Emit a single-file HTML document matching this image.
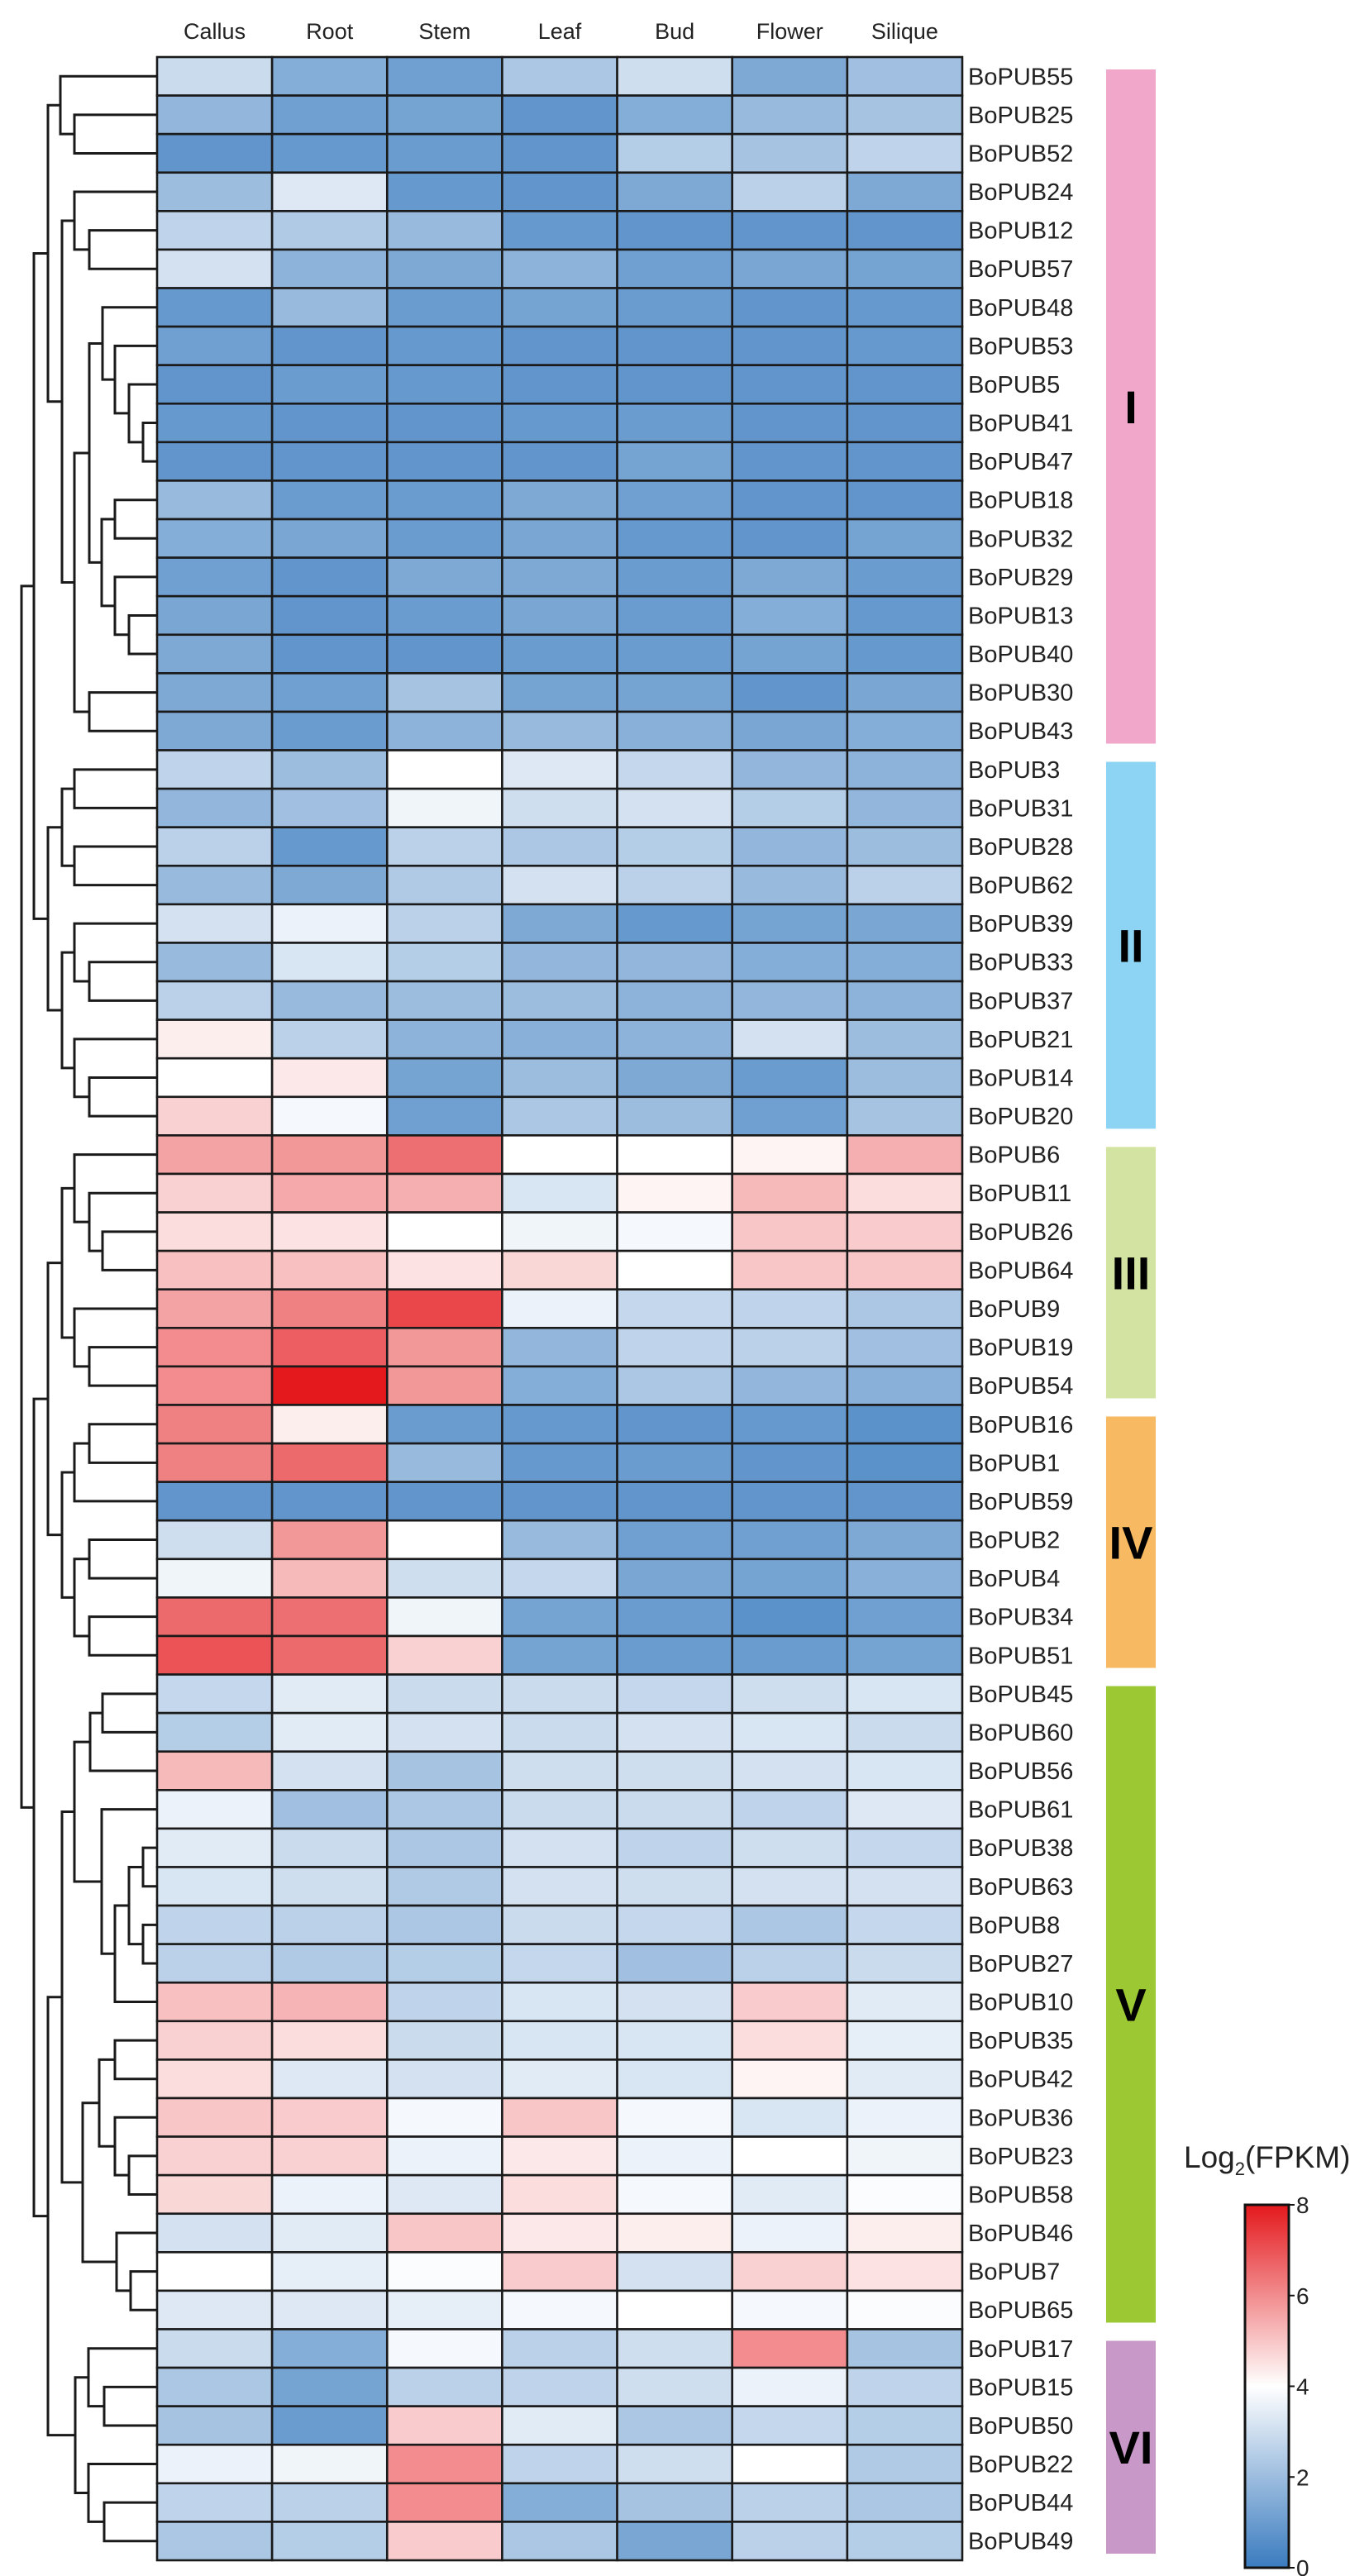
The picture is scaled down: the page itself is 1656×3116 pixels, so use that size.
<!DOCTYPE html>
<html><head><meta charset="utf-8"><style>
html,body{margin:0;padding:0;background:#fff;}
svg{display:block;font-family:"Liberation Sans",Arial,sans-serif;}
</style></head><body>
<svg id="chart" width="1656" height="3116" viewBox="0 0 1656 3116" xmlns="http://www.w3.org/2000/svg">
<defs>
<linearGradient id="cbgrad" x1="0" y1="1" x2="0" y2="0">
<stop offset="0" stop-color="#3a7bbf"/><stop offset="0.5" stop-color="#ffffff"/><stop offset="1" stop-color="#e4191d"/>
</linearGradient>
</defs>
<g id="dendro"></g>
<g id="cells"></g>
<g id="collabels"></g>
<g id="rowlabels"></g>
<g id="groups"></g>
<g id="legend">
<text x="1432" y="2622" font-size="37" fill="#222">Log<tspan font-size="22" dy="9">2</tspan><tspan dy="-9">(FPKM)</tspan></text>
<rect x="1506" y="2667" width="53" height="439" fill="url(#cbgrad)" stroke="#111" stroke-width="3"/>
</g>
</svg>
<script>
const columns = ["Callus","Root","Stem","Leaf","Bud","Flower","Silique"];
const genes = ["BoPUB55","BoPUB25","BoPUB52","BoPUB24","BoPUB12","BoPUB57","BoPUB48","BoPUB53","BoPUB5","BoPUB41","BoPUB47","BoPUB18","BoPUB32","BoPUB29","BoPUB13","BoPUB40","BoPUB30","BoPUB43",
"BoPUB3","BoPUB31","BoPUB28","BoPUB62","BoPUB39","BoPUB33","BoPUB37","BoPUB21","BoPUB14","BoPUB20",
"BoPUB6","BoPUB11","BoPUB26","BoPUB64","BoPUB9","BoPUB19","BoPUB54",
"BoPUB16","BoPUB1","BoPUB59","BoPUB2","BoPUB4","BoPUB34","BoPUB51",
"BoPUB45","BoPUB60","BoPUB56","BoPUB61","BoPUB38","BoPUB63","BoPUB8","BoPUB27","BoPUB10","BoPUB35","BoPUB42","BoPUB36","BoPUB23","BoPUB58","BoPUB46","BoPUB7","BoPUB65",
"BoPUB17","BoPUB15","BoPUB50","BoPUB22","BoPUB44","BoPUB49"];
const values = [
[2.9,1.5,1.1,2.3,3.0,1.4,2.1],[1.8,1.1,1.2,0.8,1.5,1.9,2.2],[0.8,0.9,1.0,0.8,2.5,2.2,2.7],[2.0,3.3,0.9,0.8,1.4,2.6,1.4],
[2.7,2.4,1.9,0.9,0.8,0.8,0.8],[3.1,1.7,1.4,1.7,1.1,1.3,1.2],[0.9,1.9,1.0,1.2,1.0,0.8,0.9],[1.1,0.8,0.9,0.8,0.8,0.8,0.9],
[0.8,1.0,0.9,0.8,0.8,0.8,0.8],[0.9,0.8,0.8,0.9,1.0,0.8,0.8],[0.8,0.8,0.8,0.8,1.2,0.8,0.8],[1.9,1.0,1.0,1.4,1.1,0.8,0.8],
[1.5,1.3,1.0,1.3,0.9,0.8,1.2],[1.1,0.8,1.4,1.4,1.0,1.4,1.0],[1.3,0.8,1.0,1.3,1.0,1.5,0.9],[1.4,0.8,0.8,1.0,1.0,1.2,0.9],
[1.4,1.1,2.2,1.2,1.2,0.8,1.3],[1.4,1.0,1.7,1.9,1.6,1.3,1.5],
[2.7,2.0,4.0,3.3,2.8,1.8,1.7],[1.8,2.1,3.7,3.0,3.1,2.5,1.8],[2.6,0.9,2.6,2.3,2.5,1.8,2.0],[1.9,1.4,2.4,3.1,2.6,1.9,2.6],
[3.1,3.6,2.6,1.4,0.9,1.2,1.3],[1.9,3.2,2.5,1.8,1.8,1.5,1.5],[2.6,1.9,2.0,2.0,1.7,1.8,1.7],[4.3,2.6,1.7,1.6,1.7,3.1,2.0],
[4.0,4.4,1.2,2.0,1.4,1.0,2.0],[4.8,3.8,1.1,2.3,2.0,1.1,2.2],
[5.6,5.8,6.5,4.0,4.0,4.2,5.4],[4.8,5.5,5.4,3.2,4.2,5.2,4.6],[4.6,4.5,4.0,3.7,3.8,5.0,4.9],[5.1,5.1,4.5,4.7,4.0,5.0,5.0],
[5.6,6.2,7.2,3.6,2.8,2.7,2.3],[6.0,6.8,5.8,1.8,2.7,2.6,2.1],[6.0,8.0,5.8,1.5,2.3,1.8,1.6],
[6.2,4.3,1.0,0.9,0.8,0.9,0.7],[6.2,6.6,1.9,0.9,1.0,0.8,0.7],[0.8,0.8,0.8,0.8,0.8,0.8,0.8],[3.0,5.8,4.0,1.9,1.1,1.1,1.4],
[3.7,5.2,3.0,2.8,1.3,1.2,1.6],[6.6,6.5,3.7,1.2,1.0,0.7,1.1],[7.0,6.6,4.8,1.2,1.0,1.0,1.2],
[2.8,3.4,2.9,2.9,2.8,3.0,3.2],[2.5,3.4,3.1,2.9,3.1,3.2,2.9],[5.2,3.1,2.2,3.0,3.0,3.1,3.2],[3.6,2.1,2.3,2.9,2.9,2.7,3.3],
[3.4,2.9,2.3,3.1,2.7,3.0,2.8],[3.2,3.0,2.4,3.1,3.0,3.1,3.1],[2.7,2.6,2.3,2.9,2.8,2.3,2.8],[2.6,2.4,2.5,2.8,2.1,2.6,2.9],
[5.1,5.3,2.7,3.2,3.1,4.9,3.4],[4.8,4.6,2.9,3.2,3.2,4.6,3.5],[4.6,3.3,3.1,3.4,3.2,4.2,3.4],[5.0,4.9,3.8,5.0,3.8,3.2,3.6],
[4.8,4.8,3.6,4.4,3.6,4.0,3.7],[4.7,3.6,3.3,4.6,3.8,3.4,3.9],[3.1,3.4,5.0,4.4,4.3,3.6,4.3],[4.0,3.5,3.9,4.9,3.1,4.8,4.5],
[3.3,3.3,3.5,3.8,4.0,3.8,3.9],
[2.9,1.5,3.8,2.6,3.0,6.0,2.2],[2.3,1.2,2.6,2.7,3.0,3.6,2.7],[2.2,1.0,4.9,3.4,2.3,2.8,2.5],[3.6,3.7,6.0,2.7,3.0,4.0,2.4],
[2.7,2.6,6.0,1.5,2.2,2.6,2.3],[2.3,2.5,4.9,2.3,1.3,2.6,2.5]];
const groupNames = ["I","II","III","IV","V","VI"];
const groupStarts = [0,18,28,35,42,59];
const groupEnds = [18,28,35,42,59,65];
const groupColors = ["#f0a7c9","#8dd3f3","#d3e4a2","#f7b962","#9cc833","#c899c8"];
const legendTicks = [0,2,4,6,8];
// dendrogram: [mergeX, left, right]; leaves are row indices
const I = [58,[73,0,[90,1,2]],[75,[90,3,[108,4,5]],[90,[108,[124,6,[139,7,[156,8,[173,9,10]]]],[123,[139,11,12],[139,13,[156,14,15]]]],[108,16,17]]]];
const II = [58,[75,[90,18,19],[90,20,21]],[75,[90,22,[108,23,24]],[90,25,[108,26,27]]]];
const III = [75,[90,28,[108,29,[124,30,31]]],[90,32,[108,33,34]]];
const IV = [75,[90,[108,35,36],37],[90,[108,38,39],[108,40,41]]];
const V = [75,[90,[109,[124,42,43],44],[123,45,[139,[156,[173,46,47],[173,48,49]],50]]],[100,[120,[139,51,52],[139,53,[156,54,55]]],[141,56,[158,57,58]]]];
const VI = [91,[107,59,[126,60,61]],[107,62,[126,63,64]]];
const tree = [26,[41,I,II],[41,[58,III,IV],[58,V,VI]]];

const NS="http://www.w3.org/2000/svg";
const X0=190, X1=1164, Y0=69, Y1=3097;
const nR=genes.length, nC=columns.length;
const rh=(Y1-Y0)/nR, cw=(X1-X0)/nC;
const xPos=c=>X0+c*cw;
const yPos=r=>Y0+r*rh;
function mk(tag,attrs,parent){const e=document.createElementNS(NS,tag);for(const k in attrs)e.setAttribute(k,attrs[k]);parent.appendChild(e);return e;}
function lerp(a,b,t){return Math.round(a+(b-a)*t);}
function color(v){
  const lo=[58,123,191], mid=[255,255,255], hi=[228,25,29];
  let t=Math.max(0,Math.min(8,v));
  let c;
  if(t<=4){const f=t/4;c=[lerp(lo[0],mid[0],f),lerp(lo[1],mid[1],f),lerp(lo[2],mid[2],f)];}
  else{const f=(t-4)/4;c=[lerp(mid[0],hi[0],f),lerp(mid[1],hi[1],f),lerp(mid[2],hi[2],f)];}
  return `rgb(${c[0]},${c[1]},${c[2]})`;
}
const cells=document.getElementById('cells');
for(let r=0;r<nR;r++){for(let c=0;c<nC;c++){
  const e=mk('rect',{x:xPos(c),y:yPos(r),width:cw,height:rh,fill:color(values[r][c]),stroke:'#1a1a1a','stroke-width':2.6},cells);
  
  
}}
const cl=document.getElementById('collabels');
columns.forEach((n,c)=>{
  const t=mk('text',{x:xPos(c)+cw/2,y:47,'font-size':27,'text-anchor':'middle',fill:'#222'},cl);
  t.textContent=n;
  
  
});
const rl=document.getElementById('rowlabels');
genes.forEach((g,r)=>{
  const t=mk('text',{x:1171,y:yPos(r)+rh/2+10,'font-size':29,fill:'#222'},rl);
  t.textContent=g;
  
  
});
const gg=document.getElementById('groups');
groupNames.forEach((n,i)=>{
  const top=yPos(groupStarts[i])+(i===0?15:14), bot=yPos(groupEnds[i])-8;
  const b=mk('rect',{x:1338,y:top,width:60,height:bot-top,fill:groupColors[i]},gg);
  
  
  const t=mk('text',{x:1368,y:(top+bot)/2+20,'font-size':56,'font-weight':'bold','text-anchor':'middle',fill:'#000'},gg);
  t.textContent=n;
  
  
});
const lg=document.getElementById('legend');
const cbTop=2667, cbBot=3106;
legendTicks.forEach(v=>{
  const y=cbBot-(v/8)*(cbBot-cbTop);
  const l=mk('line',{x1:1559,x2:1566,y1:y,y2:y,stroke:'#111','stroke-width':2},lg);
  
  
  const t=mk('text',{x:1568,y:y+10,'font-size':28,fill:'#222'},lg);
  t.textContent=v;
  
  
});
const dg=document.getElementById('dendro');
function draw(node){
  if(typeof node==='number') return {x:X0,y:yPos(node)+rh/2};
  const a=draw(node[1]), b=draw(node[2]), x=node[0];
  const p=mk('path',{d:`M${a.x},${a.y}H${x}V${b.y}H${b.x}`,fill:'none',stroke:'#1a1a1a','stroke-width':3},dg);
  
  
  return {x:x,y:(a.y+b.y)/2};
}
draw(tree);
</script>
</body></html>
